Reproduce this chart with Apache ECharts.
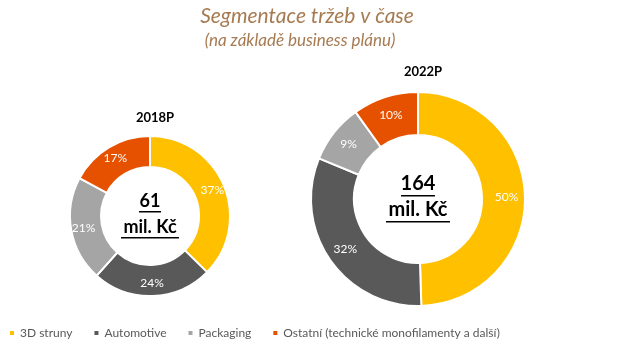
<!DOCTYPE html>
<html>
<head>
<meta charset="utf-8">
<script src="https://cdn.jsdelivr.net/npm/echarts@6/dist/echarts.min.js"></script>
<style>
  html, body { margin: 0; padding: 0; background: #fff; }
  #chart { width: 619px; height: 352px; }
</style>
</head>
<body>
<div id="chart"></div>
<script>
// segmenty a podíly (%)
var segments = ['3D struny', 'Automotive', 'Packaging', 'Ostatní (technické monofilamenty a další)'];
var share2018 = [37, 24, 21, 17];
var share2022 = [50, 32, 9, 10];
var years = ['2018P', '2022P'];
var totals = ['61', '164'];

var colors = ['#FFC000', '#595959', '#A5A5A5', '#E65100'];
var font = 'Lato, "Open Sans", sans-serif';

function toData(vals) {
  return vals.map(function (v, i) { return { value: v, name: segments[i] }; });
}

var chart = echarts.init(document.getElementById('chart'));

var option = {
  color: colors,
  animation: false,
  title: [
    { text: 'Segmentace tržeb v čase', left: 302, top: 1, textAlign: 'center',
      textStyle: { fontFamily: font, fontStyle: 'italic', fontWeight: 'normal', fontSize: 21, color: '#A67B52' } },
    { text: '(na základě business plánu)', left: 295, top: 27, textAlign: 'center',
      textStyle: { fontFamily: font, fontStyle: 'italic', fontWeight: 'normal', fontSize: 17, color: '#A67B52' } },
    { text: years[0], left: 150, top: 106, textAlign: 'center',
      textStyle: { fontFamily: font, fontWeight: 'bold', fontSize: 13, color: '#000' } },
    { text: years[1], left: 418, top: 60, textAlign: 'center',
      textStyle: { fontFamily: font, fontWeight: 'bold', fontSize: 13, color: '#000' } }
  ],
  legend: {
    data: segments,
    left: 3, bottom: 8,
    icon: 'rect', itemWidth: 6, itemHeight: 6, itemGap: 20,
    textStyle: { fontFamily: font, fontSize: 12, color: '#595959' }
  },
  series: [
    {
      type: 'pie', center: [150, 216], radius: [49, 80],
      startAngle: 90, clockwise: true,
      itemStyle: { borderColor: '#fff', borderWidth: 2 },
      label: { show: true, position: 'inside', formatter: '{c}%', color: '#fff', fontFamily: font, fontSize: 12 },
      labelLine: { show: false },
      emphasis: { disabled: true },
      data: toData(share2018)
    },
    {
      type: 'pie', center: [418, 199], radius: [64, 107],
      startAngle: 90, clockwise: true,
      itemStyle: { borderColor: '#fff', borderWidth: 2 },
      label: { show: true, position: 'inside', formatter: '{c}%', color: '#fff', fontFamily: font, fontSize: 12 },
      labelLine: { show: false },
      emphasis: { disabled: true },
      data: toData(share2022)
    }
  ],
  // středový text + podtržení
  graphic: [
    { type: 'text', x: 150, y: 201, style: { text: totals[0], font: 'bold 18px ' + font, fill: '#000', align: 'center', verticalAlign: 'middle' } },
    { type: 'rect', shape: { x: 139, y: 211, width: 22, height: 1.5 }, style: { fill: '#000' } },
    { type: 'text', x: 150, y: 227, style: { text: 'mil. Kč', font: 'bold 18px ' + font, fill: '#000', align: 'center', verticalAlign: 'middle' } },
    { type: 'rect', shape: { x: 121, y: 237, width: 58, height: 1.5 }, style: { fill: '#000' } },
    { type: 'text', x: 418, y: 184, style: { text: totals[1], font: 'bold 20px ' + font, fill: '#000', align: 'center', verticalAlign: 'middle' } },
    { type: 'rect', shape: { x: 401, y: 195, width: 34, height: 1.5 }, style: { fill: '#000' } },
    { type: 'text', x: 418, y: 210, style: { text: 'mil. Kč', font: 'bold 20px ' + font, fill: '#000', align: 'center', verticalAlign: 'middle' } },
    { type: 'rect', shape: { x: 386, y: 221, width: 64, height: 1.5 }, style: { fill: '#000' } }
  ]
};

chart.setOption(option);
</script>
</body>
</html>
